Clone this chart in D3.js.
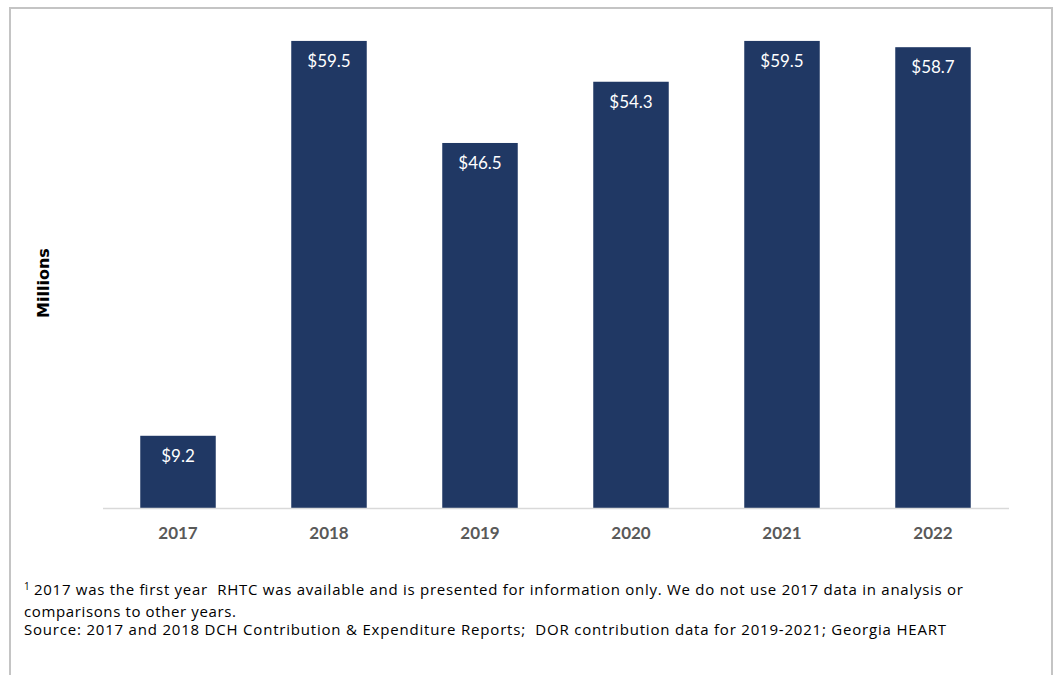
<!DOCTYPE html>
<html><head><meta charset="utf-8">
<script src="https://cdn.jsdelivr.net/npm/d3@7"></script>
<style>body{margin:0;background:#fff;} svg{display:block;}</style>
</head><body>
<svg id="chart" width="1054" height="675"></svg>
<script>
const years = ["2017","2018","2019","2020","2021","2022"];
const values = [9.2, 59.5, 46.5, 54.3, 59.5, 58.7];
const yAxisTitle = "Millions";
const footSup = "1";
const footLines = [
  "2017 was the first year  RHTC was available and is presented for information only. We do not use 2017 data in analysis or",
  "comparisons to other years.",
  "Source: 2017 and 2018 DCH Contribution & Expenditure Reports;  DOR contribution data for 2019-2021; Georgia HEART"
];

const svg = d3.select("#chart");
svg.append("rect").attr("x",10).attr("y",8).attr("width",1042).attr("height",700)
  .attr("fill","#fff").attr("stroke","#c4c4c4").attr("stroke-width",2);

const x = d3.scaleBand().domain(years).range([102.5, 1008.5]).paddingInner(0.5).paddingOuter(0.25);
const y = d3.scaleLinear().domain([0, 60]).range([508, 37]);

svg.selectAll("rect.bar").data(values).join("rect").attr("class","bar")
  .attr("x",(d,i)=>x(years[i])).attr("width",x.bandwidth())
  .attr("y",d=>y(d)).attr("height",d=>y(0)-y(d))
  .attr("fill","#203864");

svg.selectAll("text.val").data(values).join("text").attr("class","val")
  .attr("x",(d,i)=>x(years[i])+x.bandwidth()/2).attr("y",d=>y(d)+26)
  .attr("text-anchor","middle").attr("fill","#fff")
  .style("font-family","Lato, 'Open Sans', sans-serif").style("font-size","17px")
  .text(d=>"$"+d.toFixed(1));

const xAxis = svg.append("g").attr("transform","translate(0,508)")
  .call(d3.axisBottom(x).tickSize(0).tickPadding(16));
xAxis.select(".domain").attr("stroke","#d9d9d9").attr("stroke-width",1.5);
xAxis.selectAll("text").attr("fill","#595959").attr("dy","0.9em")
  .style("font-family","Lato, 'Open Sans', sans-serif").style("font-size","17px").style("font-weight","bold");

svg.append("text").attr("transform","translate(49,283) rotate(-90)")
  .attr("text-anchor","middle").attr("fill","#000")
  .style("font-family","'DejaVu Sans', sans-serif").style("font-size","16px").style("font-weight","bold")
  .text(yAxisTitle);

const footStyle = s => s.style("font-family","'Open Sans', Lato, sans-serif").style("font-size","15px")
  .style("white-space","pre").attr("xml:space","preserve").attr("fill","#000");
svg.append("text").attr("x",24).attr("y",590).style("font-family","'Open Sans', sans-serif")
  .style("font-size","10px").attr("fill","#000").text(footSup);
const xs = [34, 24, 24], ys = [595, 617, 635], ends = [963, 236, 946];
footLines.forEach((ln,i)=>{
  svg.append("text").call(footStyle).attr("x",xs[i]).attr("y",ys[i])
    .attr("textLength", ends[i]-xs[i]).attr("lengthAdjust","spacing").text(ln);
});
</script>
</body></html>
